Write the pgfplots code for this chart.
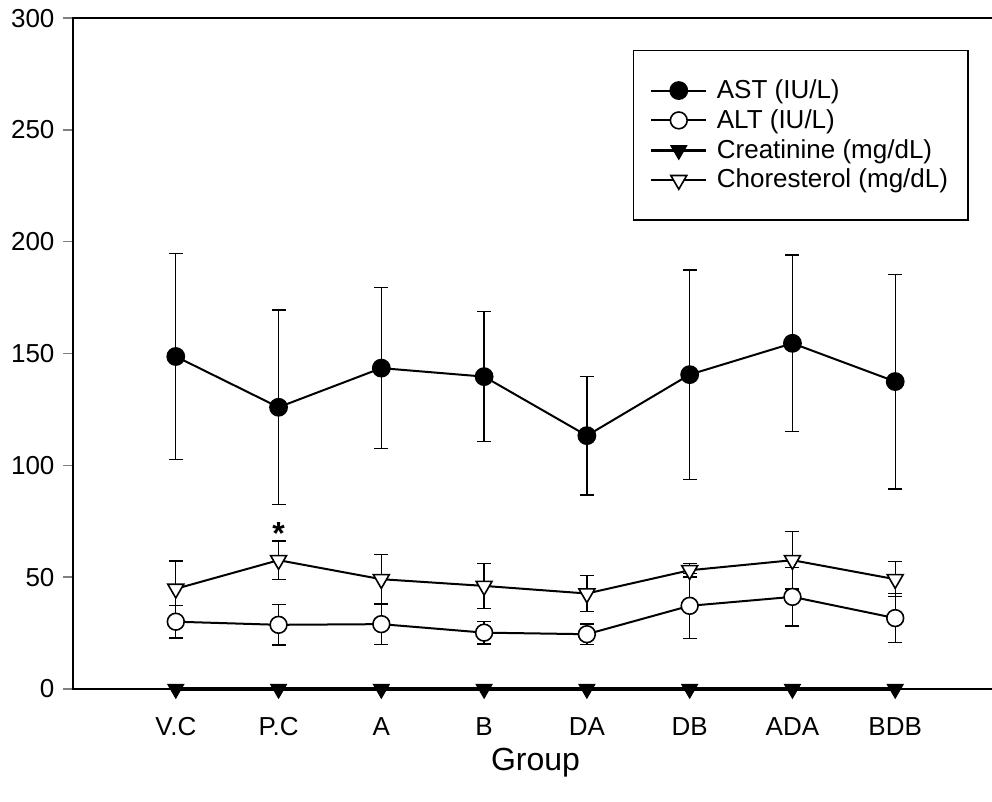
\documentclass[border=0pt]{standalone}
\usepackage{fontspec}
\setmainfont{Liberation Sans}
\usepackage{pgfplots}
\pgfplotsset{compat=1.18}

\begin{document}
\begin{tikzpicture}
\begin{axis}[
    scale only axis,
    width=462.5pt, height=335.4pt,
    xmin=0, xmax=9,
    ymin=0, ymax=300,
    clip=false,
    axis line style={line width=0.7pt},
    xtick={1,2,3,4,5,6,7,8},
    xticklabels={V.C,P.C,A,B,DA,DB,ADA,BDB},
    major x tick style={draw=none},
    ytick={0,50,100,150,200,250,300},
    ytick pos=left,
    tick align=outside,
    major tick length=4.75pt,
    major y tick style={line width=0.7pt},
    tick label style={font=\fontsize{13}{15}\selectfont},
    /pgf/number format/assume math mode=true,
    xticklabel style={yshift=-6pt},
    yticklabel style={xshift=-1pt},
    xlabel={Group},
    xlabel style={font=\fontsize{16}{19}\selectfont, yshift=1pt},
    legend style={at={(0.6054,0.9527)}, anchor=north west, draw=black,
        line width=0.7pt, inner xsep=8pt, inner ysep=12.5pt,
        font=\fontsize{13}{15}\selectfont, cells={anchor=west}},
    legend image code/.code={\draw[mark repeat=2,mark phase=2,#1]
        plot coordinates {(0pt,0pt) (13.75pt,0pt) (27.5pt,0pt)};
        \path (30pt,0pt);},
    error bars/error bar style={line width=0.7pt, black},
    error bars/error mark options={rotate=90, line width=0.7pt, mark size=3.5pt, black},
]
% AST
\addplot[black, line width=1pt, mark=*, mark size=4.2pt, mark options={fill=black, draw=black},
    error bars/.cd, y dir=both, y explicit] coordinates {
    (1,148.7) +- (0,46.0)
    (2,126.0) +- (0,43.5)
    (3,143.5) +- (0,36.0)
    (4,139.7) +- (0,29.0)
    (5,113.3) +- (0,26.5)
    (6,140.6) +- (0,46.8)
    (7,154.6) +- (0,39.5)
    (8,137.5) +- (0,48.0)
};
\addlegendentry{AST (IU/L)}
% ALT
\addplot[black, line width=1pt, mark=*, mark size=4.2pt, mark options={fill=white, draw=black, line width=0.8pt},
    error bars/.cd, y dir=both, y explicit] coordinates {
    (1,30.1) +- (0,7.3)
    (2,28.7) +- (0,9.0)
    (3,29.0) +- (0,9.0)
    (4,25.2) +- (0,5.0)
    (5,24.5) +- (0,4.5)
    (6,37.2) +- (0,14.5)
    (7,41.2) +- (0,13.0)
    (8,31.7) +- (0,11.0)
};
\addlegendentry{ALT (IU/L)}
% Creatinine
\addplot[black, line width=1.6pt, mark=triangle*, mark size=4.6pt,
    mark options={rotate=180, fill=black, draw=black, line width=0.5pt}] coordinates {
    (1,0) (2,0) (3,0) (4,0) (5,0) (6,0) (7,0) (8,0)
};
\addlegendentry{Creatinine (mg/dL)}
% Cholesterol
\addplot[black, line width=1pt, mark=triangle*, mark size=4.6pt,
    mark options={rotate=180, fill=white, draw=black, line width=0.8pt},
    error bars/.cd, y dir=both, y explicit] coordinates {
    (1,44.8) +- (0,12.5)
    (2,57.6) +- (0,8.5)
    (3,49.1) +- (0,11.0)
    (4,46.1) +- (0,10.0)
    (5,42.7) +- (0,8.0)
    (6,53.1) +- (0,3.0)
    (7,57.6) +- (0,12.8)
    (8,49.1) +- (0,7.8)
};
\addlegendentry{Choresterol (mg/dL)}
\node[font=\fontsize{16}{19}\selectfont\bfseries] at (axis cs:2,69.5) {*};
\end{axis}
\pgfresetboundingbox
\path[use as bounding box] (-36.5pt,-56.5pt) rectangle (459.5pt,344.5pt);
\end{tikzpicture}
\end{document}
